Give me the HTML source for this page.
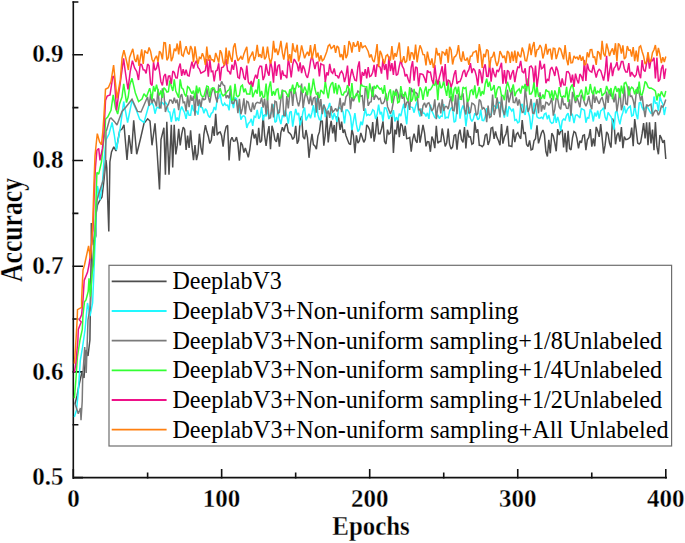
<!DOCTYPE html>
<html><head><meta charset="utf-8"><style>
html,body{margin:0;padding:0;background:#fff;}
svg{display:block;}
text{font-family:"Liberation Serif",serif;}
</style></head><body>
<svg width="685" height="543" viewBox="0 0 685 543">
<g stroke="#111" stroke-width="1.6" fill="none" stroke-linecap="square"><path d="M73.3 2 V478.2 M73.3 477.6 H666.2" />
<path d="M73.3 477.60 H82.20 M73.3 424.75 H77.60 M73.3 371.90 H82.20 M73.3 319.05 H77.60 M73.3 266.20 H82.20 M73.3 213.35 H77.60 M73.3 160.50 H82.20 M73.3 107.65 H77.60 M73.3 54.80 H82.20 M73.3 1.95 H77.60 M73.30 477.6 V469.80 M147.62 477.6 V473.30 M221.65 477.6 V469.80 M295.67 477.6 V473.30 M369.70 477.6 V469.80 M443.73 477.6 V473.30 M517.75 477.6 V469.80 M591.77 477.6 V473.30 M665.80 477.6 V469.80"/></g>
<g fill="none" stroke-width="1.5" stroke-linejoin="miter" stroke-miterlimit="2">
<path d="M75.0 404.0 L77.0 396.0 L79.0 385.0 L82.0 372.0 L84.0 378.0 L86.0 350.0 L88.0 356.0 L89.9 340.0 L90.6 290.0 L91.3 255.0 L91.3 223.0 L93.5 245.0 L95.8 236.0 L95.8 215.0 L97.5 205.0 L100.0 200.0 L102.0 197.0 L104.0 180.0 L106.0 160.0 L106.8 168.0 L107.7 200.0 L108.8 231.5 L109.9 162.0 L111.5 152.0 L113.8 146.8 L116.0 151.0 L119.7 130.6 L122.0 129.0 L124.0 124.7 L127.0 160.0 L129.0 135.0 L131.5 154.0 L133.7 120.3 L136.7 154.2 L140.3 139.5 L144.0 123.3 L147.7 118.8 L150.0 121.0 L152.0 145.3 L155.0 123.3 L157.0 150.0 L159.5 189.5 L161.0 139.5 L163.9 127.7 L165.4 174.8 L166.8 121.8 L169.0 174.8 L171.3 124.7 L172.7 167.4 L174.2 124.7 L175.8 154.5 L177.2 145.4 L178.7 128.8 L180.2 145.5 L181.7 134.2 L183.2 127.1 L184.6 129.2 L186.1 149.9 L187.6 135.6 L189.1 147.9 L190.6 130.2 L192.0 146.7 L193.5 160.2 L195.0 145.1 L196.5 160.2 L198.0 153.3 L199.4 133.7 L200.9 147.3 L202.4 154.6 L203.9 134.0 L205.4 125.2 L206.8 131.3 L208.3 136.2 L209.8 143.5 L211.3 140.1 L212.8 126.3 L214.2 136.0 L215.7 113.8 L217.2 135.1 L218.7 132.7 L220.2 132.0 L221.6 135.7 L223.1 146.7 L224.6 133.3 L226.1 126.9 L227.6 125.4 L229.1 160.5 L230.5 140.6 L232.0 137.2 L233.5 141.2 L235.0 140.9 L236.5 137.1 L237.9 143.9 L239.4 160.8 L240.9 142.3 L242.4 144.9 L243.9 152.6 L245.3 148.0 L246.8 152.4 L248.3 157.4 L249.8 149.5 L251.3 137.5 L252.7 129.3 L254.2 138.5 L255.7 133.8 L257.2 145.2 L258.7 127.8 L260.1 142.4 L261.6 140.8 L263.1 115.0 L264.6 135.5 L266.1 145.8 L267.5 134.6 L269.0 126.1 L270.5 149.2 L272.0 125.8 L273.5 131.4 L274.9 139.7 L276.4 141.8 L277.9 133.0 L279.4 146.7 L280.9 132.4 L282.4 127.2 L283.8 131.6 L285.3 125.8 L286.8 123.3 L288.3 132.1 L289.8 133.3 L291.2 135.0 L292.7 139.4 L294.2 137.2 L295.7 125.9 L297.2 143.6 L298.6 140.6 L300.1 121.4 L301.6 116.1 L303.1 136.8 L304.6 139.1 L306.0 130.0 L307.5 137.8 L309.0 157.8 L310.5 143.9 L312.0 133.8 L313.4 144.7 L314.9 145.9 L316.4 149.2 L317.9 136.1 L319.4 131.9 L320.8 120.8 L322.3 121.1 L323.8 145.6 L325.3 134.7 L326.8 114.6 L328.2 142.4 L329.7 128.9 L331.2 120.9 L332.7 133.3 L334.2 125.0 L335.6 141.6 L337.1 116.2 L338.6 118.0 L340.1 129.9 L341.6 121.6 L343.1 133.0 L344.5 129.5 L346.0 135.7 L347.5 139.7 L349.0 143.5 L350.5 144.6 L351.9 129.1 L353.4 135.6 L354.9 153.3 L356.4 135.4 L357.9 143.1 L359.3 141.0 L360.8 132.9 L362.3 137.6 L363.8 142.3 L365.3 139.2 L366.7 124.9 L368.2 126.6 L369.7 129.9 L371.2 138.3 L372.7 122.0 L374.1 141.6 L375.6 132.4 L377.1 116.5 L378.6 133.7 L380.1 133.7 L381.5 128.7 L383.0 121.3 L384.5 141.6 L386.0 144.0 L387.5 129.6 L388.9 134.2 L390.4 132.8 L391.9 115.2 L393.4 152.9 L394.9 129.6 L396.3 134.4 L397.8 118.9 L399.3 137.2 L400.8 123.5 L402.3 125.7 L403.8 135.9 L405.2 125.9 L406.7 138.6 L408.2 138.4 L409.7 137.5 L411.2 151.6 L412.6 139.9 L414.1 133.6 L415.6 140.4 L417.1 142.8 L418.6 124.8 L420.0 142.6 L421.5 133.8 L423.0 125.0 L424.5 132.5 L426.0 146.3 L427.4 141.5 L428.9 141.8 L430.4 151.8 L431.9 136.6 L433.4 140.5 L434.8 148.1 L436.3 125.7 L437.8 143.1 L439.3 141.6 L440.8 141.5 L442.2 128.5 L443.7 137.2 L445.2 146.4 L446.7 142.7 L448.2 128.5 L449.6 144.3 L451.1 149.0 L452.6 146.9 L454.1 135.7 L455.6 134.3 L457.0 149.7 L458.5 134.5 L460.0 129.7 L461.5 139.6 L463.0 142.4 L464.5 127.0 L465.9 148.5 L467.4 129.8 L468.9 137.0 L470.4 136.9 L471.9 144.3 L473.3 143.4 L474.8 121.9 L476.3 132.8 L477.8 129.2 L479.3 145.3 L480.7 145.5 L482.2 146.7 L483.7 144.9 L485.2 135.3 L486.7 133.8 L488.1 144.9 L489.6 140.7 L491.1 128.2 L492.6 127.4 L494.1 138.8 L495.5 131.4 L497.0 137.6 L498.5 140.7 L500.0 145.2 L501.5 124.1 L502.9 143.7 L504.4 137.0 L505.9 134.0 L507.4 125.8 L508.9 145.9 L510.3 146.1 L511.8 146.5 L513.3 129.3 L514.8 142.1 L516.3 134.3 L517.8 132.7 L519.2 136.2 L520.7 138.8 L522.2 120.0 L523.7 134.0 L525.2 132.2 L526.6 144.4 L528.1 146.6 L529.6 140.3 L531.1 149.9 L532.6 149.3 L534.0 140.7 L535.5 138.7 L537.0 125.4 L538.5 143.4 L540.0 138.1 L541.4 133.0 L542.9 130.0 L544.4 134.6 L545.9 151.5 L547.4 156.5 L548.8 139.8 L550.3 153.3 L551.8 133.2 L553.3 136.0 L554.8 143.0 L556.2 151.3 L557.7 129.1 L559.2 135.1 L560.7 131.0 L562.2 129.7 L563.6 147.4 L565.1 132.8 L566.6 152.1 L568.1 130.8 L569.6 148.7 L571.0 150.0 L572.5 137.8 L574.0 131.5 L575.5 132.6 L577.0 138.9 L578.5 148.4 L579.9 140.8 L581.4 142.9 L582.9 135.5 L584.4 134.9 L585.9 150.2 L587.3 139.8 L588.8 137.5 L590.3 129.1 L591.8 146.7 L593.3 138.3 L594.7 146.3 L596.2 126.9 L597.7 130.9 L599.2 136.8 L600.7 124.1 L602.1 137.3 L603.6 153.5 L605.1 145.2 L606.6 131.8 L608.1 134.3 L609.5 143.0 L611.0 147.6 L612.5 118.6 L614.0 123.0 L615.5 144.3 L616.9 135.3 L618.4 132.7 L619.9 141.7 L621.4 127.1 L622.9 148.2 L624.3 136.5 L625.8 139.7 L627.3 139.3 L628.8 138.5 L630.3 136.9 L631.7 127.6 L633.2 146.2 L634.7 119.0 L636.2 130.0 L637.7 143.0 L639.2 144.1 L640.6 142.6 L642.1 133.9 L643.6 123.1 L645.1 138.4 L646.6 122.3 L648.0 145.2 L649.5 122.4 L651.0 143.5 L652.5 129.5 L654.0 150.1 L655.4 122.0 L656.9 146.7 L658.4 154.3 L659.9 135.1 L661.4 138.1 L662.8 142.8 L664.3 140.0 L665.8 159.0" stroke="#4d4d4d"/>
<path d="M74.4 417.0 L76.5 410.0 L78.0 395.0 L80.3 360.6 L82.5 347.4 L85.0 330.0 L87.5 303.0 L90.0 316.0 L92.6 303.0 L94.0 270.0 L96.0 220.0 L97.5 186.0 L100.0 200.0 L102.5 182.0 L104.0 160.0 L106.0 139.8 L109.0 134.0 L112.1 122.5 L114.3 135.0 L116.4 150.0 L120.0 129.5 L122.0 114.7 L123.7 101.5 L127.6 122.5 L132.0 100.4 L136.4 110.3 L139.7 119.2 L144.0 122.5 L148.6 106.0 L150.6 104.3 L152.1 102.6 L153.5 105.7 L155.0 113.7 L156.5 108.0 L158.0 107.1 L159.5 108.7 L160.9 102.5 L162.4 102.8 L163.9 104.6 L165.4 102.3 L166.9 104.2 L168.4 111.6 L169.8 112.0 L171.3 122.0 L172.8 113.9 L174.3 108.4 L175.8 121.2 L177.2 117.6 L178.7 120.9 L180.2 111.0 L181.7 106.5 L183.2 109.9 L184.6 112.7 L186.1 118.9 L187.6 110.3 L189.1 115.3 L190.6 115.3 L192.0 104.9 L193.5 110.5 L195.0 110.8 L196.5 111.3 L198.0 114.7 L199.4 102.7 L200.9 107.1 L202.4 107.8 L203.9 113.2 L205.4 108.8 L206.8 110.7 L208.3 115.6 L209.8 117.4 L211.3 113.3 L212.8 112.3 L214.2 107.0 L215.7 110.1 L217.2 98.8 L218.7 98.2 L220.2 93.6 L221.6 102.8 L223.1 106.0 L224.6 103.2 L226.1 105.4 L227.6 105.1 L229.1 110.4 L230.5 95.1 L232.0 101.4 L233.5 108.2 L235.0 97.8 L236.5 98.5 L237.9 108.2 L239.4 107.7 L240.9 119.6 L242.4 116.4 L243.9 115.9 L245.3 117.3 L246.8 127.9 L248.3 123.5 L249.8 122.3 L251.3 118.8 L252.7 125.8 L254.2 116.3 L255.7 117.3 L257.2 109.9 L258.7 118.7 L260.1 116.7 L261.6 107.0 L263.1 120.3 L264.6 114.5 L266.1 116.4 L267.5 109.5 L269.0 118.7 L270.5 114.3 L272.0 111.6 L273.5 104.3 L274.9 122.3 L276.4 121.2 L277.9 109.5 L279.4 118.7 L280.9 124.0 L282.4 115.4 L283.8 116.6 L285.3 110.2 L286.8 115.6 L288.3 123.7 L289.8 112.4 L291.2 111.2 L292.7 126.7 L294.2 116.9 L295.7 108.8 L297.2 115.1 L298.6 112.9 L300.1 125.4 L301.6 119.5 L303.1 111.3 L304.6 107.6 L306.0 120.4 L307.5 117.1 L309.0 113.8 L310.5 118.2 L312.0 112.4 L313.4 105.1 L314.9 117.4 L316.4 98.0 L317.9 114.9 L319.4 119.6 L320.8 119.9 L322.3 109.1 L323.8 104.4 L325.3 117.1 L326.8 110.2 L328.2 107.8 L329.7 102.9 L331.2 112.9 L332.7 119.5 L334.2 113.0 L335.6 117.2 L337.1 121.9 L338.6 106.9 L340.1 108.5 L341.6 109.2 L343.1 111.9 L344.5 123.3 L346.0 110.1 L347.5 110.1 L349.0 112.1 L350.5 116.2 L351.9 130.1 L353.4 121.3 L354.9 113.2 L356.4 124.4 L357.9 131.6 L359.3 129.4 L360.8 121.6 L362.3 125.1 L363.8 116.8 L365.3 108.5 L366.7 115.4 L368.2 114.4 L369.7 115.3 L371.2 113.9 L372.7 109.7 L374.1 110.9 L375.6 119.0 L377.1 114.5 L378.6 104.7 L380.1 114.4 L381.5 111.9 L383.0 121.2 L384.5 107.9 L386.0 108.0 L387.5 112.5 L388.9 119.0 L390.4 115.1 L391.9 116.2 L393.4 110.2 L394.9 121.4 L396.3 117.2 L397.8 120.3 L399.3 113.6 L400.8 116.1 L402.3 109.5 L403.8 103.8 L405.2 113.9 L406.7 124.3 L408.2 104.5 L409.7 106.5 L411.2 107.1 L412.6 107.6 L414.1 112.7 L415.6 106.2 L417.1 101.4 L418.6 111.5 L420.0 116.6 L421.5 108.6 L423.0 113.1 L424.5 113.4 L426.0 116.4 L427.4 112.9 L428.9 118.8 L430.4 104.6 L431.9 111.0 L433.4 114.2 L434.8 117.7 L436.3 118.0 L437.8 114.7 L439.3 118.5 L440.8 116.0 L442.2 116.3 L443.7 104.1 L445.2 118.2 L446.7 117.4 L448.2 117.8 L449.6 111.1 L451.1 108.0 L452.6 107.5 L454.1 122.3 L455.6 121.0 L457.0 109.0 L458.5 97.3 L460.0 118.7 L461.5 109.6 L463.0 105.4 L464.5 110.7 L465.9 126.3 L467.4 114.4 L468.9 106.8 L470.4 118.4 L471.9 121.5 L473.3 119.0 L474.8 113.3 L476.3 114.9 L477.8 119.8 L479.3 118.1 L480.7 109.7 L482.2 120.4 L483.7 120.6 L485.2 116.9 L486.7 108.2 L488.1 114.5 L489.6 114.2 L491.1 114.9 L492.6 108.2 L494.1 105.6 L495.5 106.9 L497.0 108.4 L498.5 102.6 L500.0 102.6 L501.5 105.7 L502.9 110.7 L504.4 117.7 L505.9 105.5 L507.4 116.6 L508.9 106.4 L510.3 108.7 L511.8 111.1 L513.3 108.7 L514.8 120.3 L516.3 119.6 L517.8 122.9 L519.2 121.8 L520.7 106.3 L522.2 103.8 L523.7 111.9 L525.2 114.9 L526.6 105.4 L528.1 111.5 L529.6 116.5 L531.1 129.5 L532.6 118.8 L534.0 102.7 L535.5 106.8 L537.0 116.8 L538.5 118.0 L540.0 118.2 L541.4 117.3 L542.9 118.6 L544.4 114.0 L545.9 113.2 L547.4 119.2 L548.8 114.9 L550.3 121.7 L551.8 123.3 L553.3 122.6 L554.8 113.8 L556.2 122.8 L557.7 116.9 L559.2 122.3 L560.7 130.8 L562.2 120.8 L563.6 119.1 L565.1 120.0 L566.6 115.2 L568.1 113.2 L569.6 121.6 L571.0 112.8 L572.5 114.7 L574.0 123.1 L575.5 115.4 L577.0 114.9 L578.5 116.3 L579.9 117.9 L581.4 108.2 L582.9 109.5 L584.4 110.3 L585.9 122.7 L587.3 117.5 L588.8 118.2 L590.3 109.1 L591.8 112.8 L593.3 121.5 L594.7 112.5 L596.2 116.6 L597.7 110.6 L599.2 118.7 L600.7 110.9 L602.1 109.7 L603.6 107.6 L605.1 117.1 L606.6 120.6 L608.1 112.4 L609.5 114.7 L611.0 116.8 L612.5 121.1 L614.0 129.7 L615.5 112.4 L616.9 110.8 L618.4 118.4 L619.9 124.4 L621.4 116.7 L622.9 112.4 L624.3 105.8 L625.8 113.3 L627.3 109.4 L628.8 107.3 L630.3 106.2 L631.7 116.1 L633.2 115.2 L634.7 105.4 L636.2 114.1 L637.7 119.3 L639.2 102.9 L640.6 102.2 L642.1 107.4 L643.6 110.4 L645.1 107.8 L646.6 106.6 L648.0 108.0 L649.5 110.9 L651.0 113.4 L652.5 112.9 L654.0 96.5 L655.4 103.2 L656.9 102.8 L658.4 111.2 L659.9 96.5 L661.4 101.3 L662.8 103.9 L664.3 115.0 L665.8 106.8" stroke="#22f8ff"/>
<path d="M75.0 403.7 L78.3 413.7 L80.5 408.0 L81.0 420.3 L82.2 401.5 L82.7 377.0 L84.7 347.0 L86.2 373.0 L88.0 320.0 L90.4 304.8 L92.0 270.0 L95.0 230.0 L97.0 200.0 L100.0 190.0 L103.3 179.7 L105.6 160.4 L106.0 131.0 L106.6 130.2 L109.7 119.0 L111.0 118.0 L114.3 121.4 L117.0 125.0 L122.0 111.4 L126.0 107.0 L132.0 99.3 L137.5 111.4 L141.0 112.0 L147.5 97.0 L149.1 106.0 L150.6 94.2 L152.1 103.4 L153.5 98.7 L155.0 101.8 L156.5 106.5 L158.0 88.7 L159.5 107.6 L160.9 107.9 L162.4 88.4 L163.9 94.0 L165.4 112.0 L166.9 106.9 L168.4 104.4 L169.8 100.1 L171.3 100.3 L172.8 103.6 L174.3 97.7 L175.8 103.0 L177.2 99.6 L178.7 110.2 L180.2 97.0 L181.7 94.2 L183.2 102.6 L184.6 102.0 L186.1 111.4 L187.6 95.3 L189.1 107.2 L190.6 95.3 L192.0 100.9 L193.5 95.9 L195.0 115.8 L196.5 90.0 L198.0 106.0 L199.4 99.5 L200.9 107.2 L202.4 97.7 L203.9 99.7 L205.4 99.0 L206.8 88.2 L208.3 96.6 L209.8 102.6 L211.3 93.8 L212.8 88.6 L214.2 89.9 L215.7 97.3 L217.2 102.5 L218.7 85.3 L220.2 86.3 L221.6 81.4 L223.1 84.8 L224.6 85.8 L226.1 98.1 L227.6 95.3 L229.1 98.5 L230.5 89.0 L232.0 103.1 L233.5 103.5 L235.0 99.5 L236.5 100.6 L237.9 113.2 L239.4 98.8 L240.9 114.3 L242.4 108.4 L243.9 98.4 L245.3 114.3 L246.8 101.3 L248.3 102.3 L249.8 108.9 L251.3 111.9 L252.7 102.5 L254.2 109.6 L255.7 103.6 L257.2 102.4 L258.7 102.8 L260.1 103.1 L261.6 97.6 L263.1 107.6 L264.6 98.5 L266.1 114.6 L267.5 97.5 L269.0 118.6 L270.5 117.7 L272.0 103.6 L273.5 117.4 L274.9 101.2 L276.4 102.0 L277.9 113.4 L279.4 112.4 L280.9 99.0 L282.4 89.6 L283.8 115.5 L285.3 115.8 L286.8 96.1 L288.3 108.4 L289.8 92.8 L291.2 88.7 L292.7 105.9 L294.2 88.1 L295.7 92.7 L297.2 101.2 L298.6 106.2 L300.1 100.2 L301.6 83.5 L303.1 108.1 L304.6 97.9 L306.0 92.1 L307.5 97.8 L309.0 104.0 L310.5 95.3 L312.0 105.3 L313.4 98.2 L314.9 97.2 L316.4 112.7 L317.9 91.7 L319.4 109.9 L320.8 99.1 L322.3 114.1 L323.8 104.8 L325.3 108.4 L326.8 114.7 L328.2 110.6 L329.7 117.9 L331.2 106.0 L332.7 112.0 L334.2 110.6 L335.6 108.3 L337.1 111.4 L338.6 108.3 L340.1 97.9 L341.6 112.1 L343.1 102.6 L344.5 105.5 L346.0 96.8 L347.5 94.8 L349.0 88.6 L350.5 109.1 L351.9 97.2 L353.4 101.3 L354.9 97.3 L356.4 95.5 L357.9 91.1 L359.3 92.2 L360.8 96.3 L362.3 95.7 L363.8 111.0 L365.3 88.0 L366.7 90.9 L368.2 105.8 L369.7 102.4 L371.2 101.8 L372.7 86.5 L374.1 99.8 L375.6 95.3 L377.1 96.8 L378.6 99.4 L380.1 98.2 L381.5 103.4 L383.0 103.4 L384.5 101.2 L386.0 93.3 L387.5 106.4 L388.9 110.0 L390.4 113.8 L391.9 110.0 L393.4 101.4 L394.9 93.0 L396.3 88.9 L397.8 92.8 L399.3 99.6 L400.8 92.8 L402.3 98.8 L403.8 94.3 L405.2 108.0 L406.7 102.5 L408.2 101.2 L409.7 109.9 L411.2 88.0 L412.6 91.5 L414.1 92.7 L415.6 92.4 L417.1 93.7 L418.6 110.2 L420.0 109.2 L421.5 116.2 L423.0 105.7 L424.5 102.8 L426.0 107.4 L427.4 103.6 L428.9 102.8 L430.4 107.1 L431.9 110.9 L433.4 108.4 L434.8 99.3 L436.3 119.2 L437.8 107.2 L439.3 102.7 L440.8 113.5 L442.2 99.3 L443.7 111.0 L445.2 106.4 L446.7 106.4 L448.2 109.1 L449.6 102.1 L451.1 96.1 L452.6 110.1 L454.1 110.7 L455.6 94.9 L457.0 114.1 L458.5 93.5 L460.0 97.1 L461.5 96.9 L463.0 93.2 L464.5 109.4 L465.9 114.5 L467.4 98.7 L468.9 113.4 L470.4 112.3 L471.9 103.1 L473.3 103.8 L474.8 105.6 L476.3 115.3 L477.8 113.7 L479.3 99.5 L480.7 101.4 L482.2 109.0 L483.7 107.7 L485.2 109.9 L486.7 122.2 L488.1 105.6 L489.6 117.5 L491.1 116.6 L492.6 94.6 L494.1 115.0 L495.5 109.7 L497.0 97.4 L498.5 106.2 L500.0 117.4 L501.5 96.0 L502.9 109.7 L504.4 115.2 L505.9 106.9 L507.4 89.7 L508.9 102.5 L510.3 97.1 L511.8 88.1 L513.3 102.4 L514.8 102.7 L516.3 97.4 L517.8 105.5 L519.2 99.3 L520.7 106.6 L522.2 112.5 L523.7 111.8 L525.2 87.9 L526.6 99.7 L528.1 111.9 L529.6 107.8 L531.1 99.0 L532.6 112.9 L534.0 113.4 L535.5 106.8 L537.0 99.2 L538.5 113.3 L540.0 92.2 L541.4 111.6 L542.9 105.1 L544.4 109.5 L545.9 102.2 L547.4 102.8 L548.8 105.4 L550.3 102.8 L551.8 98.0 L553.3 115.6 L554.8 109.1 L556.2 97.8 L557.7 99.1 L559.2 106.9 L560.7 109.3 L562.2 96.1 L563.6 105.2 L565.1 103.5 L566.6 108.4 L568.1 108.5 L569.6 99.4 L571.0 115.7 L572.5 91.9 L574.0 96.8 L575.5 103.0 L577.0 97.5 L578.5 102.0 L579.9 107.3 L581.4 94.9 L582.9 97.3 L584.4 102.6 L585.9 106.1 L587.3 102.7 L588.8 95.8 L590.3 104.5 L591.8 109.2 L593.3 90.5 L594.7 102.8 L596.2 96.5 L597.7 100.9 L599.2 103.8 L600.7 99.4 L602.1 97.3 L603.6 103.1 L605.1 109.2 L606.6 91.5 L608.1 103.0 L609.5 89.6 L611.0 96.4 L612.5 94.9 L614.0 102.4 L615.5 93.7 L616.9 111.4 L618.4 102.0 L619.9 88.6 L621.4 110.2 L622.9 104.1 L624.3 86.3 L625.8 103.7 L627.3 104.5 L628.8 86.3 L630.3 96.5 L631.7 95.9 L633.2 100.2 L634.7 107.9 L636.2 93.2 L637.7 87.0 L639.2 93.1 L640.6 100.7 L642.1 95.5 L643.6 107.7 L645.1 117.2 L646.6 104.6 L648.0 106.1 L649.5 105.1 L651.0 104.2 L652.5 116.3 L654.0 112.4 L655.4 110.3 L656.9 110.8 L658.4 115.2 L659.9 111.9 L661.4 106.0 L662.8 107.1 L664.3 104.0 L665.8 99.6" stroke="#7a7a7a"/>
<path d="M74.4 398.2 L75.9 379.8 L77.4 357.0 L80.0 340.0 L82.3 329.5 L83.0 314.7 L84.5 301.8 L86.0 300.0 L88.2 291.5 L89.0 278.3 L90.4 296.7 L91.9 274.6 L93.4 265.0 L95.0 230.0 L96.0 200.0 L96.9 172.4 L98.7 174.2 L101.5 162.0 L103.3 143.8 L105.1 130.0 L105.5 119.2 L107.7 117.0 L111.0 110.3 L113.2 94.9 L115.5 108.0 L117.7 114.0 L119.5 104.0 L122.0 97.0 L123.7 83.8 L126.5 102.6 L128.2 97.0 L129.8 85.0 L132.0 78.3 L135.3 92.7 L138.6 101.5 L142.0 99.0 L144.0 93.8 L146.4 97.0 L149.7 88.2 L152.1 99.1 L153.5 86.0 L155.0 91.6 L156.5 84.7 L158.0 91.4 L159.5 95.4 L160.9 90.5 L162.4 97.8 L163.9 87.7 L165.4 89.2 L166.9 92.2 L168.4 91.7 L169.8 80.5 L171.3 86.2 L172.8 90.9 L174.3 79.4 L175.8 91.1 L177.2 94.1 L178.7 97.6 L180.2 79.4 L181.7 87.8 L183.2 89.2 L184.6 94.1 L186.1 96.5 L187.6 86.7 L189.1 87.8 L190.6 91.1 L192.0 93.7 L193.5 90.7 L195.0 98.7 L196.5 85.7 L198.0 93.4 L199.4 87.3 L200.9 94.7 L202.4 96.7 L203.9 96.4 L205.4 90.9 L206.8 86.1 L208.3 86.7 L209.8 96.8 L211.3 88.8 L212.8 87.9 L214.2 88.1 L215.7 92.4 L217.2 91.6 L218.7 92.4 L220.2 88.3 L221.6 93.7 L223.1 95.9 L224.6 94.7 L226.1 93.1 L227.6 90.8 L229.1 89.8 L230.5 85.6 L232.0 100.2 L233.5 99.9 L235.0 83.8 L236.5 95.5 L237.9 96.7 L239.4 95.1 L240.9 86.3 L242.4 85.1 L243.9 92.3 L245.3 88.5 L246.8 94.0 L248.3 94.1 L249.8 94.2 L251.3 82.9 L252.7 97.3 L254.2 93.3 L255.7 89.9 L257.2 93.6 L258.7 79.1 L260.1 96.6 L261.6 91.0 L263.1 97.3 L264.6 96.9 L266.1 83.5 L267.5 100.1 L269.0 87.7 L270.5 81.3 L272.0 95.9 L273.5 91.1 L274.9 95.4 L276.4 89.6 L277.9 88.9 L279.4 98.6 L280.9 97.6 L282.4 90.6 L283.8 90.9 L285.3 91.2 L286.8 93.9 L288.3 97.1 L289.8 89.4 L291.2 91.0 L292.7 84.6 L294.2 93.8 L295.7 88.1 L297.2 82.1 L298.6 86.8 L300.1 86.0 L301.6 89.3 L303.1 92.9 L304.6 86.6 L306.0 90.0 L307.5 95.2 L309.0 82.9 L310.5 95.6 L312.0 88.5 L313.4 78.5 L314.9 88.5 L316.4 94.6 L317.9 93.1 L319.4 98.1 L320.8 89.9 L322.3 91.7 L323.8 94.2 L325.3 81.2 L326.8 91.0 L328.2 98.4 L329.7 87.9 L331.2 84.0 L332.7 82.2 L334.2 93.3 L335.6 83.0 L337.1 94.5 L338.6 84.9 L340.1 88.0 L341.6 94.7 L343.1 95.1 L344.5 92.0 L346.0 91.9 L347.5 85.1 L349.0 89.0 L350.5 97.6 L351.9 83.1 L353.4 98.4 L354.9 96.8 L356.4 93.7 L357.9 94.3 L359.3 102.4 L360.8 82.9 L362.3 85.9 L363.8 86.3 L365.3 86.9 L366.7 86.6 L368.2 98.6 L369.7 83.4 L371.2 90.3 L372.7 96.8 L374.1 85.8 L375.6 88.7 L377.1 85.0 L378.6 87.6 L380.1 89.3 L381.5 88.2 L383.0 93.8 L384.5 85.1 L386.0 97.7 L387.5 100.7 L388.9 92.8 L390.4 89.4 L391.9 103.2 L393.4 90.6 L394.9 95.8 L396.3 91.7 L397.8 102.7 L399.3 101.8 L400.8 86.1 L402.3 94.4 L403.8 97.0 L405.2 91.8 L406.7 98.0 L408.2 101.1 L409.7 87.0 L411.2 101.6 L412.6 99.0 L414.1 88.9 L415.6 101.2 L417.1 96.6 L418.6 97.4 L420.0 87.3 L421.5 90.4 L423.0 99.9 L424.5 91.1 L426.0 86.5 L427.4 96.6 L428.9 89.6 L430.4 89.8 L431.9 87.1 L433.4 84.1 L434.8 85.2 L436.3 79.2 L437.8 100.2 L439.3 81.0 L440.8 88.2 L442.2 86.9 L443.7 81.0 L445.2 89.1 L446.7 95.8 L448.2 82.4 L449.6 97.9 L451.1 86.3 L452.6 101.5 L454.1 89.5 L455.6 86.9 L457.0 94.0 L458.5 86.6 L460.0 99.1 L461.5 99.4 L463.0 87.0 L464.5 88.5 L465.9 87.5 L467.4 101.7 L468.9 99.6 L470.4 90.9 L471.9 89.7 L473.3 95.1 L474.8 85.3 L476.3 98.5 L477.8 94.1 L479.3 87.0 L480.7 96.1 L482.2 91.1 L483.7 94.4 L485.2 83.8 L486.7 78.7 L488.1 87.0 L489.6 81.7 L491.1 90.5 L492.6 89.0 L494.1 85.1 L495.5 98.1 L497.0 90.0 L498.5 86.8 L500.0 87.1 L501.5 95.8 L502.9 95.4 L504.4 100.2 L505.9 89.5 L507.4 81.8 L508.9 86.7 L510.3 92.4 L511.8 89.8 L513.3 84.4 L514.8 96.2 L516.3 92.0 L517.8 90.3 L519.2 88.9 L520.7 93.6 L522.2 85.9 L523.7 88.4 L525.2 83.9 L526.6 91.4 L528.1 78.4 L529.6 93.9 L531.1 93.9 L532.6 91.1 L534.0 81.9 L535.5 97.2 L537.0 86.6 L538.5 96.2 L540.0 96.9 L541.4 98.7 L542.9 94.5 L544.4 98.9 L545.9 89.6 L547.4 91.2 L548.8 91.5 L550.3 98.4 L551.8 90.3 L553.3 100.3 L554.8 90.4 L556.2 94.8 L557.7 99.2 L559.2 87.1 L560.7 96.1 L562.2 97.2 L563.6 95.9 L565.1 97.3 L566.6 86.9 L568.1 101.8 L569.6 91.2 L571.0 86.7 L572.5 84.5 L574.0 92.0 L575.5 100.7 L577.0 95.1 L578.5 97.0 L579.9 93.2 L581.4 89.6 L582.9 96.2 L584.4 100.4 L585.9 86.6 L587.3 94.2 L588.8 93.7 L590.3 84.0 L591.8 92.1 L593.3 94.4 L594.7 86.7 L596.2 94.0 L597.7 91.2 L599.2 92.4 L600.7 88.2 L602.1 96.0 L603.6 94.1 L605.1 92.7 L606.6 86.0 L608.1 90.4 L609.5 94.1 L611.0 88.0 L612.5 99.2 L614.0 90.1 L615.5 86.1 L616.9 91.9 L618.4 88.0 L619.9 97.9 L621.4 85.7 L622.9 93.7 L624.3 83.3 L625.8 82.4 L627.3 86.5 L628.8 95.5 L630.3 89.4 L631.7 87.1 L633.2 88.5 L634.7 94.3 L636.2 89.1 L637.7 93.7 L639.2 81.7 L640.6 94.6 L642.1 94.8 L643.6 89.4 L645.1 81.4 L646.6 83.2 L648.0 87.1 L649.5 88.2 L651.0 88.1 L652.5 88.9 L654.0 89.8 L655.4 91.2 L656.9 100.5 L658.4 93.5 L659.9 96.5 L661.4 91.4 L662.8 94.6 L664.3 97.0 L665.8 91.0" stroke="#33ff33"/>
<path d="M74.4 372.4 L75.9 362.8 L77.9 340.0 L78.3 329.5 L81.2 322.0 L79.4 319.9 L81.6 314.7 L83.0 300.0 L84.2 280.5 L87.5 272.4 L89.0 265.0 L90.0 258.0 L92.0 240.0 L93.0 230.0 L94.0 200.0 L95.0 175.0 L95.5 166.8 L96.9 150.3 L98.7 148.4 L100.0 160.4 L102.4 148.4 L103.8 135.5 L105.5 100.4 L107.2 96.0 L110.0 94.9 L112.9 76.0 L114.3 78.0 L116.6 110.3 L118.5 95.0 L120.0 85.0 L123.6 58.4 L125.0 69.5 L126.5 80.0 L128.0 89.5 L130.2 71.7 L132.4 60.6 L134.6 68.0 L136.8 71.7 L138.5 80.0 L140.2 64.1 L141.7 64.5 L143.2 69.7 L144.7 69.9 L146.1 73.4 L147.6 64.0 L149.1 65.9 L150.6 83.7 L152.1 85.5 L153.5 62.2 L155.0 70.4 L156.5 68.4 L158.0 61.8 L159.5 71.3 L160.9 81.7 L162.4 85.4 L163.9 76.2 L165.4 74.0 L166.9 85.6 L168.4 76.2 L169.8 75.9 L171.3 83.8 L172.8 71.1 L174.3 72.5 L175.8 77.9 L177.2 78.0 L178.7 68.2 L180.2 63.6 L181.7 75.9 L183.2 69.2 L184.6 75.1 L186.1 69.8 L187.6 75.4 L189.1 75.9 L190.6 67.9 L192.0 61.7 L193.5 68.6 L195.0 63.4 L196.5 60.7 L198.0 67.4 L199.4 69.1 L200.9 73.2 L202.4 72.3 L203.9 71.5 L205.4 70.4 L206.8 59.0 L208.3 76.8 L209.8 59.3 L211.3 71.7 L212.8 71.1 L214.2 81.5 L215.7 71.1 L217.2 70.2 L218.7 63.2 L220.2 80.7 L221.6 67.6 L223.1 67.1 L224.6 64.7 L226.1 59.1 L227.6 70.7 L229.1 71.5 L230.5 74.5 L232.0 64.6 L233.5 69.8 L235.0 60.0 L236.5 66.3 L237.9 77.3 L239.4 78.3 L240.9 67.2 L242.4 69.5 L243.9 77.5 L245.3 79.8 L246.8 65.5 L248.3 81.9 L249.8 84.5 L251.3 81.0 L252.7 86.7 L254.2 79.1 L255.7 74.8 L257.2 78.7 L258.7 69.2 L260.1 66.0 L261.6 66.3 L263.1 80.1 L264.6 76.1 L266.1 64.0 L267.5 71.8 L269.0 75.6 L270.5 61.3 L272.0 68.0 L273.5 82.7 L274.9 61.4 L276.4 76.0 L277.9 66.0 L279.4 64.6 L280.9 79.7 L282.4 70.4 L283.8 75.2 L285.3 75.4 L286.8 78.1 L288.3 58.9 L289.8 66.5 L291.2 77.5 L292.7 64.6 L294.2 59.0 L295.7 61.7 L297.2 64.3 L298.6 71.4 L300.1 62.4 L301.6 73.1 L303.1 65.4 L304.6 69.3 L306.0 75.3 L307.5 77.8 L309.0 71.3 L310.5 61.4 L312.0 55.4 L313.4 61.9 L314.9 69.1 L316.4 62.9 L317.9 62.2 L319.4 76.5 L320.8 63.8 L322.3 64.6 L323.8 65.1 L325.3 81.9 L326.8 72.3 L328.2 75.5 L329.7 63.9 L331.2 71.9 L332.7 73.3 L334.2 68.4 L335.6 75.4 L337.1 75.6 L338.6 78.3 L340.1 73.0 L341.6 71.1 L343.1 74.2 L344.5 82.1 L346.0 76.2 L347.5 65.5 L349.0 86.1 L350.5 76.0 L351.9 69.0 L353.4 75.2 L354.9 80.2 L356.4 80.8 L357.9 67.0 L359.3 61.4 L360.8 84.5 L362.3 71.9 L363.8 75.8 L365.3 69.2 L366.7 78.3 L368.2 67.0 L369.7 76.6 L371.2 75.8 L372.7 72.2 L374.1 64.9 L375.6 76.8 L377.1 64.3 L378.6 66.0 L380.1 67.2 L381.5 73.6 L383.0 59.1 L384.5 70.0 L386.0 64.0 L387.5 79.6 L388.9 56.4 L390.4 71.1 L391.9 63.1 L393.4 74.8 L394.9 60.7 L396.3 75.5 L397.8 74.2 L399.3 66.1 L400.8 59.8 L402.3 66.2 L403.8 68.9 L405.2 76.3 L406.7 74.3 L408.2 79.5 L409.7 83.1 L411.2 67.4 L412.6 61.1 L414.1 80.6 L415.6 66.8 L417.1 67.9 L418.6 86.3 L420.0 73.8 L421.5 74.1 L423.0 74.6 L424.5 78.1 L426.0 82.9 L427.4 70.4 L428.9 72.5 L430.4 72.1 L431.9 79.7 L433.4 84.1 L434.8 64.8 L436.3 78.1 L437.8 84.5 L439.3 77.5 L440.8 72.1 L442.2 66.2 L443.7 81.5 L445.2 64.1 L446.7 85.7 L448.2 80.2 L449.6 80.9 L451.1 87.2 L452.6 82.4 L454.1 74.5 L455.6 70.2 L457.0 83.9 L458.5 81.8 L460.0 81.5 L461.5 77.7 L463.0 72.1 L464.5 69.8 L465.9 76.9 L467.4 72.3 L468.9 69.7 L470.4 63.2 L471.9 73.1 L473.3 68.4 L474.8 70.4 L476.3 75.7 L477.8 85.6 L479.3 69.2 L480.7 73.3 L482.2 83.3 L483.7 68.2 L485.2 64.4 L486.7 76.3 L488.1 76.4 L489.6 63.7 L491.1 81.7 L492.6 67.9 L494.1 73.7 L495.5 77.3 L497.0 70.0 L498.5 71.4 L500.0 67.5 L501.5 62.8 L502.9 83.8 L504.4 70.2 L505.9 83.6 L507.4 70.4 L508.9 71.8 L510.3 79.6 L511.8 73.5 L513.3 70.1 L514.8 82.2 L516.3 73.1 L517.8 67.1 L519.2 67.6 L520.7 60.9 L522.2 71.6 L523.7 72.7 L525.2 68.3 L526.6 84.5 L528.1 85.9 L529.6 66.9 L531.1 66.0 L532.6 68.6 L534.0 82.5 L535.5 65.6 L537.0 86.9 L538.5 75.8 L540.0 60.6 L541.4 68.8 L542.9 67.8 L544.4 63.9 L545.9 83.1 L547.4 79.4 L548.8 80.4 L550.3 69.6 L551.8 67.1 L553.3 70.9 L554.8 76.0 L556.2 66.6 L557.7 70.5 L559.2 78.7 L560.7 87.2 L562.2 78.4 L563.6 84.8 L565.1 84.9 L566.6 71.8 L568.1 71.5 L569.6 73.9 L571.0 82.6 L572.5 74.7 L574.0 86.8 L575.5 73.6 L577.0 79.7 L578.5 83.5 L579.9 74.0 L581.4 76.3 L582.9 81.1 L584.4 60.1 L585.9 80.9 L587.3 63.6 L588.8 69.7 L590.3 71.4 L591.8 72.2 L593.3 65.0 L594.7 71.2 L596.2 77.5 L597.7 71.6 L599.2 69.3 L600.7 70.6 L602.1 75.1 L603.6 80.5 L605.1 72.5 L606.6 55.7 L608.1 81.5 L609.5 71.7 L611.0 62.5 L612.5 76.1 L614.0 68.3 L615.5 66.5 L616.9 62.0 L618.4 70.4 L619.9 67.5 L621.4 61.6 L622.9 61.6 L624.3 68.5 L625.8 72.1 L627.3 72.1 L628.8 63.1 L630.3 76.6 L631.7 72.0 L633.2 75.0 L634.7 76.8 L636.2 74.8 L637.7 65.6 L639.2 74.0 L640.6 78.2 L642.1 60.1 L643.6 70.0 L645.1 71.6 L646.6 63.2 L648.0 56.3 L649.5 68.6 L651.0 60.1 L652.5 60.5 L654.0 57.7 L655.4 78.4 L656.9 57.6 L658.4 81.7 L659.9 79.5 L661.4 68.8 L662.8 64.9 L664.3 79.0 L665.8 68.5" stroke="#ee1188"/>
<path d="M74.4 363.6 L76.0 340.0 L77.2 319.0 L77.5 309.6 L81.6 307.4 L81.6 300.0 L83.0 270.0 L84.5 265.0 L88.6 245.8 L90.4 258.7 L91.8 243.0 L93.0 215.0 L94.1 179.7 L95.0 155.8 L96.4 142.0 L97.3 133.7 L99.6 142.0 L101.5 144.7 L102.8 131.8 L104.0 115.0 L105.5 89.3 L108.3 87.7 L111.0 81.6 L113.6 65.0 L115.1 79.8 L117.0 98.3 L120.3 79.8 L122.1 57.7 L123.9 50.3 L125.4 56.2 L127.3 64.3 L128.4 70.0 L129.5 57.7 L132.8 48.8 L134.6 59.2 L136.0 62.0 L137.6 54.7 L139.0 65.8 L141.7 49.4 L143.2 63.8 L144.7 50.6 L146.1 52.3 L147.6 53.1 L149.1 47.5 L150.6 51.4 L152.1 59.5 L153.5 62.2 L155.0 58.3 L156.5 55.8 L158.0 61.8 L159.5 51.2 L160.9 53.0 L162.4 59.4 L163.9 42.7 L165.4 43.0 L166.9 60.3 L168.4 57.6 L169.8 44.2 L171.3 61.1 L172.8 57.4 L174.3 48.5 L175.8 51.1 L177.2 43.5 L178.7 54.4 L180.2 40.8 L181.7 54.9 L183.2 56.2 L184.6 50.6 L186.1 46.2 L187.6 52.6 L189.1 54.4 L190.6 46.0 L192.0 49.5 L193.5 62.1 L195.0 46.4 L196.5 57.2 L198.0 64.1 L199.4 57.4 L200.9 58.5 L202.4 53.2 L203.9 57.2 L205.4 64.9 L206.8 46.6 L208.3 60.7 L209.8 55.0 L211.3 59.7 L212.8 59.8 L214.2 62.0 L215.7 52.9 L217.2 57.4 L218.7 62.6 L220.2 50.2 L221.6 53.3 L223.1 62.2 L224.6 65.4 L226.1 47.6 L227.6 64.2 L229.1 50.7 L230.5 57.2 L232.0 61.8 L233.5 47.2 L235.0 43.3 L236.5 54.7 L237.9 60.8 L239.4 58.7 L240.9 56.5 L242.4 59.6 L243.9 53.9 L245.3 50.2 L246.8 46.8 L248.3 63.4 L249.8 57.5 L251.3 54.9 L252.7 51.6 L254.2 60.7 L255.7 56.2 L257.2 44.8 L258.7 56.9 L260.1 54.2 L261.6 58.0 L263.1 46.7 L264.6 59.3 L266.1 56.8 L267.5 46.5 L269.0 57.4 L270.5 63.6 L272.0 57.8 L273.5 40.9 L274.9 52.4 L276.4 48.6 L277.9 55.1 L279.4 49.3 L280.9 40.9 L282.4 52.8 L283.8 59.7 L285.3 49.5 L286.8 42.6 L288.3 60.8 L289.8 54.2 L291.2 62.9 L292.7 43.2 L294.2 50.9 L295.7 51.8 L297.2 44.7 L298.6 61.5 L300.1 54.9 L301.6 45.4 L303.1 51.9 L304.6 58.3 L306.0 54.5 L307.5 51.8 L309.0 55.9 L310.5 45.2 L312.0 59.0 L313.4 51.8 L314.9 44.1 L316.4 57.6 L317.9 52.7 L319.4 61.4 L320.8 55.3 L322.3 60.8 L323.8 59.4 L325.3 55.4 L326.8 51.5 L328.2 46.0 L329.7 44.6 L331.2 48.6 L332.7 47.3 L334.2 45.2 L335.6 52.9 L337.1 46.0 L338.6 47.6 L340.1 57.1 L341.6 54.2 L343.1 60.1 L344.5 45.1 L346.0 58.2 L347.5 54.6 L349.0 41.0 L350.5 44.6 L351.9 52.7 L353.4 42.2 L354.9 46.4 L356.4 46.0 L357.9 41.0 L359.3 52.0 L360.8 42.2 L362.3 48.0 L363.8 46.4 L365.3 45.9 L366.7 48.5 L368.2 51.5 L369.7 57.5 L371.2 54.4 L372.7 60.2 L374.1 62.0 L375.6 54.9 L377.1 44.0 L378.6 67.1 L380.1 50.9 L381.5 54.1 L383.0 60.1 L384.5 63.6 L386.0 55.9 L387.5 54.7 L388.9 58.1 L390.4 60.5 L391.9 46.2 L393.4 59.7 L394.9 53.1 L396.3 56.8 L397.8 49.9 L399.3 42.5 L400.8 61.1 L402.3 61.8 L403.8 56.1 L405.2 62.8 L406.7 61.0 L408.2 46.3 L409.7 60.6 L411.2 52.8 L412.6 53.2 L414.1 59.6 L415.6 44.6 L417.1 62.3 L418.6 52.3 L420.0 45.4 L421.5 49.0 L423.0 54.6 L424.5 54.8 L426.0 65.3 L427.4 51.6 L428.9 59.3 L430.4 64.8 L431.9 58.3 L433.4 68.0 L434.8 62.1 L436.3 47.9 L437.8 55.4 L439.3 53.2 L440.8 64.4 L442.2 51.9 L443.7 52.5 L445.2 55.5 L446.7 49.0 L448.2 62.8 L449.6 46.8 L451.1 49.9 L452.6 64.5 L454.1 57.3 L455.6 56.2 L457.0 53.5 L458.5 45.2 L460.0 57.9 L461.5 61.7 L463.0 51.4 L464.5 59.8 L465.9 60.4 L467.4 57.6 L468.9 64.8 L470.4 56.2 L471.9 56.0 L473.3 52.2 L474.8 51.9 L476.3 50.7 L477.8 62.9 L479.3 44.1 L480.7 52.2 L482.2 67.9 L483.7 53.8 L485.2 57.2 L486.7 49.4 L488.1 50.9 L489.6 67.7 L491.1 57.6 L492.6 56.8 L494.1 51.8 L495.5 60.9 L497.0 66.1 L498.5 61.6 L500.0 51.1 L501.5 54.3 L502.9 57.9 L504.4 55.6 L505.9 63.1 L507.4 51.0 L508.9 53.0 L510.3 62.9 L511.8 51.5 L513.3 61.1 L514.8 50.7 L516.3 62.9 L517.8 51.7 L519.2 55.6 L520.7 57.2 L522.2 47.6 L523.7 52.3 L525.2 60.6 L526.6 60.8 L528.1 53.3 L529.6 43.7 L531.1 55.2 L532.6 46.4 L534.0 42.0 L535.5 57.1 L537.0 49.8 L538.5 49.1 L540.0 45.0 L541.4 47.9 L542.9 58.5 L544.4 52.5 L545.9 43.8 L547.4 54.6 L548.8 49.5 L550.3 49.4 L551.8 59.6 L553.3 48.2 L554.8 48.6 L556.2 59.1 L557.7 53.7 L559.2 47.7 L560.7 49.2 L562.2 54.5 L563.6 59.4 L565.1 45.1 L566.6 59.2 L568.1 65.2 L569.6 52.1 L571.0 62.9 L572.5 62.7 L574.0 55.8 L575.5 58.1 L577.0 57.1 L578.5 59.8 L579.9 55.0 L581.4 60.7 L582.9 56.4 L584.4 65.1 L585.9 63.8 L587.3 52.3 L588.8 57.4 L590.3 49.7 L591.8 49.5 L593.3 57.8 L594.7 56.6 L596.2 64.9 L597.7 51.2 L599.2 52.9 L600.7 59.7 L602.1 40.9 L603.6 53.5 L605.1 56.5 L606.6 43.5 L608.1 49.2 L609.5 56.1 L611.0 51.3 L612.5 48.4 L614.0 54.9 L615.5 43.2 L616.9 61.1 L618.4 43.4 L619.9 45.6 L621.4 53.5 L622.9 45.3 L624.3 59.1 L625.8 57.1 L627.3 46.1 L628.8 50.2 L630.3 50.1 L631.7 56.6 L633.2 47.0 L634.7 61.2 L636.2 50.7 L637.7 61.6 L639.2 47.1 L640.6 45.9 L642.1 51.5 L643.6 56.2 L645.1 64.2 L646.6 61.6 L648.0 52.2 L649.5 61.8 L651.0 60.8 L652.5 52.7 L654.0 49.8 L655.4 45.0 L656.9 56.2 L658.4 48.0 L659.9 54.5 L661.4 63.2 L662.8 57.1 L664.3 62.0 L665.8 56.5" stroke="#ff8010"/>
</g>
<g font-weight="bold" font-size="25" fill="#000" text-anchor="end" stroke="#fff" stroke-width="0.3"><text x="63.5" y="485.2">0.5</text><text x="63.5" y="379.5">0.6</text><text x="63.5" y="273.8">0.7</text><text x="63.5" y="168.1">0.8</text><text x="63.5" y="62.4">0.9</text></g>
<g font-weight="bold" font-size="25" fill="#000" stroke="#fff" stroke-width="0.3"><text x="73.6" y="507.3" text-anchor="middle">0</text><text x="221.6" y="507.3" text-anchor="middle">100</text><text x="369.7" y="507.3" text-anchor="middle">200</text><text x="517.8" y="507.3" text-anchor="middle">300</text><text x="665.8" y="507.3" text-anchor="middle">400</text></g>
<text x="371" y="535.3" font-weight="bold" font-size="27.5" text-anchor="middle" stroke="#fff" stroke-width="0.3" textLength="77.4" lengthAdjust="spacingAndGlyphs">Epochs</text>
<text transform="translate(21.7 230.0) rotate(-90)" font-weight="bold" font-size="31" text-anchor="middle" stroke="#fff" stroke-width="0.3" textLength="104.2" lengthAdjust="spacingAndGlyphs">Accuracy</text>
<g font-size="25" fill="#000"><rect x="109" y="265.3" width="562.6" height="180.7" fill="#fff" stroke="#6e6e6e" stroke-width="1.2"/>
<path d="M111.7 281.4 H166.6" stroke="#4d4d4d" stroke-width="1.8"/>
<text x="172.4" y="289.30" textLength="109.4" lengthAdjust="spacingAndGlyphs">DeeplabV3</text>
<path d="M111.7 311.0 H166.6" stroke="#22f8ff" stroke-width="1.8"/>
<text x="172.4" y="319.00" textLength="346.3" lengthAdjust="spacingAndGlyphs">DeeplabV3+Non-uniform sampling</text>
<path d="M111.7 340.7 H166.6" stroke="#7a7a7a" stroke-width="1.8"/>
<text x="172.4" y="348.70" textLength="489.8" lengthAdjust="spacingAndGlyphs">DeeplabV3+Non-uniform sampling+1/8Unlabeled</text>
<path d="M111.7 370.3 H166.6" stroke="#33ff33" stroke-width="1.8"/>
<text x="172.4" y="378.40" textLength="489.8" lengthAdjust="spacingAndGlyphs">DeeplabV3+Non-uniform sampling+1/4Unlabeled</text>
<path d="M111.7 400.0 H166.6" stroke="#ee1188" stroke-width="1.8"/>
<text x="172.4" y="408.10" textLength="489.8" lengthAdjust="spacingAndGlyphs">DeeplabV3+Non-uniform sampling+1/2Unlabeled</text>
<path d="M111.7 429.6 H166.6" stroke="#ff8010" stroke-width="1.8"/>
<text x="172.4" y="437.80" textLength="496.2" lengthAdjust="spacingAndGlyphs">DeeplabV3+Non-uniform sampling+All Unlabeled</text></g>
</svg>
</body></html>
